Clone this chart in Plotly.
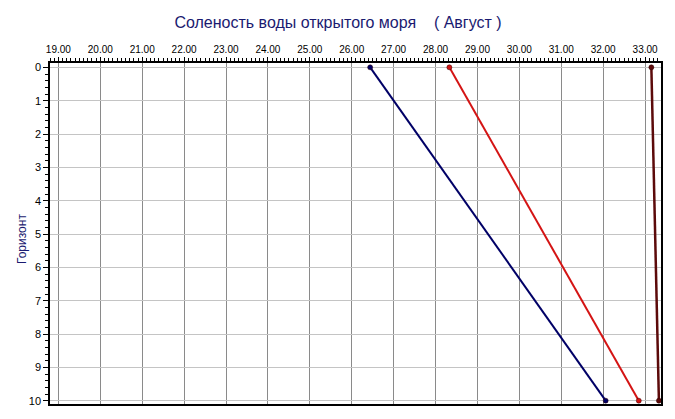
import plotly.graph_objects as go

horizons = [0, 10]
series_names = ["Серия 1", "Серия 2", "Серия 3"]
salinity_blue = [26.44, 32.06]
salinity_red = [28.33, 32.85]
salinity_maroon = [33.15, 33.33]
x_ticks = [19, 20, 21, 22, 23, 24, 25, 26, 27, 28, 29, 30, 31, 32, 33]
y_ticks = [0, 1, 2, 3, 4, 5, 6, 7, 8, 9, 10]

title_text = "Соленость воды открытого моря    ( Август )"
y_title = "Горизонт"

# page body has an 8px default margin; figure is sized to fit the window
W, H = 667, 411
L, R, T, B = 42, 13, 55, 13

fig = go.Figure()
styles = [("#000066", 2), ("#d41414", 2), ("#5c0a0a", 2.5)]
for name, vals, (col, w) in zip(series_names, [salinity_blue, salinity_red, salinity_maroon], styles):
    fig.add_trace(go.Scatter(
        x=vals, y=horizons, mode="lines+markers", name=name,
        line=dict(color=col, width=w),
        marker=dict(color=col, size=5, line=dict(color="#300000", width=0.5)),
        showlegend=False,
    ))

pw, ph = W - L - R, H - T - B
fig.update_layout(
    width=W, height=H,
    margin=dict(l=L, r=R, t=T, b=B),
    paper_bgcolor="white", plot_bgcolor="white",
    font=dict(family="Liberation Sans, Arial", size=11, color="black"),
    title=dict(text=title_text, x=(338 - 8) / W, xanchor="center",
               y=1 - (22 - 8) / H, yanchor="middle",
               font=dict(size=16, color="#1a1a70", family="Liberation Sans, Arial")),
    annotations=[dict(text=y_title,
                      x=(22 - 8 - L) / pw, y=(H - B - (240 - 8)) / ph,
                      xref="paper", yref="paper", xanchor="center", yanchor="middle",
                      showarrow=False, textangle=-90,
                      font=dict(size=12, color="#1a1a70"))],
)

fig.update_xaxes(
    side="top", range=[18.8, 33.38], tickvals=x_ticks, tickformat=".2f",
    showgrid=True, gridcolor="#8a8a8a", gridwidth=1,
    showline=True, linecolor="black", linewidth=1.5, mirror=True,
    ticks="outside", ticklen=4, tickcolor="black",
    minor=dict(dtick=0.1, ticks="outside", ticklen=3, tickcolor="black", showgrid=False),
    zeroline=False, tickfont=dict(size=10),
)
fig.update_yaxes(
    range=[10.1, -0.13], tickvals=y_ticks,
    showgrid=True, gridcolor="#c4c4c4", gridwidth=1,
    showline=True, linecolor="black", linewidth=1.5, mirror=True,
    ticks="outside", ticklen=5, tickcolor="black",
    minor=dict(dtick=0.2, ticks="outside", ticklen=3, tickcolor="black", showgrid=False),
    zeroline=False, tickfont=dict(size=11),
)

fig.write_html("out.html")
